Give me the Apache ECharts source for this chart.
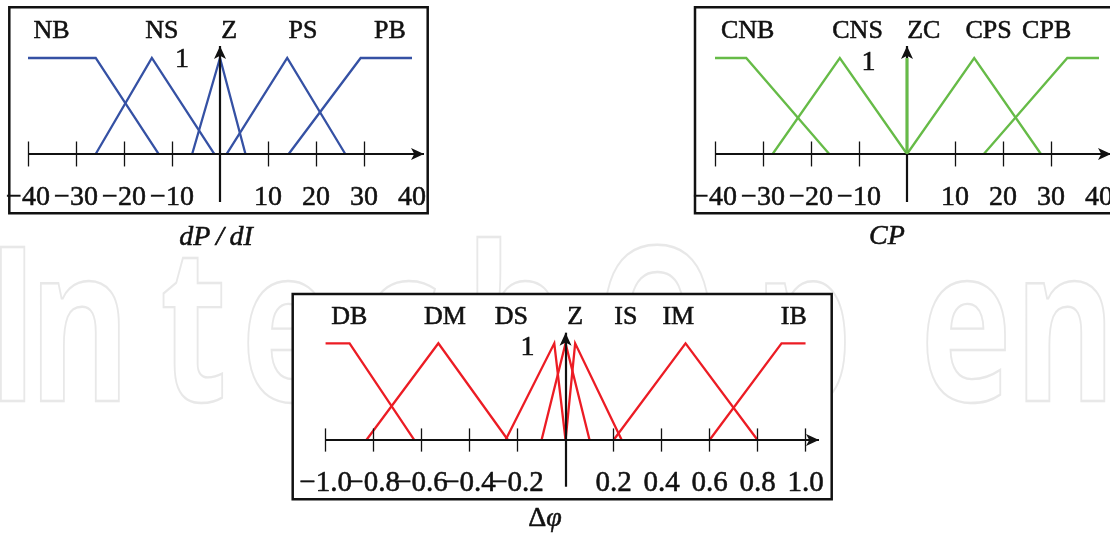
<!DOCTYPE html>
<html>
<head>
<meta charset="utf-8">
<script src="https://cdn.jsdelivr.net/npm/echarts@6/dist/echarts.min.js"></script>
<style>
  html, body { margin: 0; padding: 0; background: #fff; }
  #chart { width: 1110px; height: 535px; }
</style>
</head>
<body>
<div id="chart"></div>
<script>
// ---- Fuzzy sets of the input dP/dI: breakpoints [x, membership] ----
const dpdiNames = ['NB', 'NS', 'Z', 'PS', 'PB'];
const dpdiNB = [[-40, 1], [-25.9, 1], [-12.8, 0]];
const dpdiNS = [[-25.9, 0], [-14.2, 1], [-1.2, 0]];
const dpdiZ  = [[-5.8, 0], [0, 1], [5.3, 0]];
const dpdiPS = [[1.4, 0], [14, 1], [26.1, 0]];
const dpdiPB = [[14.3, 0], [29.3, 1], [40, 1]];
const dpdiTicks = [-40, -30, -20, -10, 10, 20, 30];
const dpdiTickLabels = [-40, -30, -20, -10, 10, 20, 30, 40];

// ---- Fuzzy sets of the input CP ----
const cpNames = ['CNB', 'CNS', 'ZC', 'CPS', 'CPB'];
const cpCNB = [[-40, 1], [-33.5, 1], [-16.2, 0]];
const cpCNS = [[-28, 0], [-14, 1], [0, 0]];
const cpZC  = [[0, 0], [0, 1]];
const cpCPS = [[0, 0], [14, 1], [27.9, 0]];
const cpCPB = [[16, 0], [33.4, 1], [40, 1]];
const cpTicks = [-40, -30, -20, -10, 10, 20, 30];
const cpTickLabels = [-40, -30, -20, -10, 10, 20, 30, 40];

// ---- Fuzzy sets of the output Δφ ----
const phiNames = ['DB', 'DM', 'DS', 'Z', 'IS', 'IM', 'IB'];
const phiDB = [[-1, 1], [-0.9, 1], [-0.63, 0]];
const phiDM = [[-0.83, 0], [-0.53, 1], [-0.24, 0]];
const phiDS = [[-0.25, 0], [-0.047, 1], [0, 0]];
const phiZ  = [[-0.1, 0], [0, 1], [0.1, 0]];
const phiIS = [[0, 0], [0.04, 1], [0.234, 0]];
const phiIM = [[0.2, 0], [0.5, 1], [0.8, 0]];
const phiIB = [[0.6, 0], [0.9, 1], [1, 1]];
const phiTicks = [-1, -0.8, -0.6, -0.4, -0.2, 0.2, 0.4, 0.6, 0.8, 1];
const phiTickLabels = [-1, -0.8, -0.6, -0.4, -0.2, 0.2, 0.4, 0.6, 0.8, 1];

const MINUS = '\u2212';
const SERIF = '"Liberation Serif", "DejaVu Serif", serif';
const INK = '#111111';
const TEXT_WEIGHT = 0.55;   // thin outline that gives the serif text a bit more body

const fmtInt = v => (v < 0 ? MINUS + Math.abs(v) : String(v));
const fmtDec = v => (v < 0 ? MINUS : '') + Math.abs(v).toFixed(1);

// Panel layout: frame in pixels, value extents, where the set names sit
const panels = [
  {
    names: dpdiNames, curves: [dpdiNB, dpdiNS, dpdiZ, dpdiPS, dpdiPB], spike: -1,
    color: '#3551a4', ticks: dpdiTicks, tickLabels: dpdiTickLabels, fmt: fmtInt,
    grid: { left: 9.3, top: 7.3, width: 418.4, height: 206 },
    xMin: -43.9, xMax: 43.27, yMin: -0.618, yMax: 1.528,
    hAxis: [-40, 42.5], vAxis: [-0.5, 1.125], tickHalf: 0.13,
    labelMargin: 44, tickFont: 28,
    nameX: [-35.1, -12.1, 1.9, 17.3, 35.4], nameY: 1.278, one: [-7.9, 0.98]
  },
  {
    names: cpNames, curves: [cpCNB, cpCNS, cpZC, cpCPS, cpCPB], spike: 2,
    color: '#66bb47', ticks: cpTicks, tickLabels: cpTickLabels, fmt: fmtInt,
    grid: { left: 695, top: 7.3, width: 418.4, height: 206 },
    xMin: -44.17, xMax: 43.0, yMin: -0.618, yMax: 1.528,
    hAxis: [-40, 42.5], vAxis: [-0.5, 1.125], tickHalf: 0.13,
    labelMargin: 44, tickFont: 28,
    nameX: [-33.2, -10.3, 3.5, 17.0, 29.1], nameY: 1.28, one: [-8.0, 0.95]
  },
  {
    names: phiNames, curves: [phiDB, phiDM, phiDS, phiZ, phiIS, phiIM, phiIB], spike: -1,
    color: '#ec1c24', ticks: phiTicks, tickLabels: phiTickLabels, fmt: fmtDec,
    grid: { left: 292.7, top: 294, width: 539, height: 205.3 },
    xMin: -1.137, xMax: 1.109, yMin: -0.613, yMax: 1.51,
    hAxis: [-1, 1.056], vAxis: [-0.483, 1.11], tickHalf: 0.12,
    labelMargin: 43.5, tickFont: 29,
    nameX: [-0.901, -0.503, -0.226, 0.04, 0.251, 0.47, 0.951], nameY: 1.275, one: [-0.159, 0.96]
  }
];

const grids = [], xAxes = [], yAxes = [], series = [];

const textLabel = (size) => ({
  show: true, position: 'inside', opacity: 1,
  fontFamily: SERIF, fontSize: size, color: INK,
  textBorderColor: INK, textBorderWidth: TEXT_WEIGHT, textShadowBlur: 0
});

panels.forEach((p, i) => {
  grids.push(Object.assign({
    show: true, backgroundColor: '#fff', borderColor: INK, borderWidth: 2.5,
    outerBoundsMode: 'none', containLabel: false
  }, p.grid));

  xAxes.push({ gridIndex: i, type: 'value', min: p.xMin, max: p.xMax, show: false });
  yAxes.push({ gridIndex: i, type: 'value', min: p.yMin, max: p.yMax, show: false });

  // membership functions
  p.curves.forEach((pts, k) => {
    series.push({
      type: 'line', name: p.names[k], xAxisIndex: i, yAxisIndex: i,
      data: pts, symbol: 'none', silent: true, clip: false,
      z: k === p.spike ? 5 : 2,
      lineStyle: { color: p.color, width: k === p.spike ? 3 : 2.3, join: 'miter' }
    });
  });

  // axes with arrow heads and crossing tick marks
  const axisStyle = { color: INK, width: 2.2, type: 'solid' };
  const tickStyle = { color: INK, width: 1.3, type: 'solid' };
  const lines = [
    [{ coord: [p.hAxis[0], 0], symbol: 'none', lineStyle: axisStyle },
     { coord: [p.hAxis[1], 0], symbol: 'arrow', symbolSize: [9, 13] }],
    [{ coord: [0, p.vAxis[0]], symbol: 'none', lineStyle: axisStyle },
     { coord: [0, p.vAxis[1]], symbol: 'arrow', symbolSize: [9, 13] }]
  ];
  p.ticks.forEach(t => {
    lines.push([
      { coord: [t, -p.tickHalf], symbol: 'none', lineStyle: tickStyle },
      { coord: [t, p.tickHalf], symbol: 'none' }
    ]);
  });
  series.push({
    type: 'line', xAxisIndex: i, yAxisIndex: i, data: [], silent: true, z: 3,
    markLine: {
      silent: true, animation: false, symbol: ['none', 'none'], precision: 6,
      label: { show: false }, emphasis: { disabled: true },
      itemStyle: { color: INK },
      lineStyle: axisStyle,
      data: lines
    }
  });

  // tick values written under the horizontal axis, labelMargin px below membership 0
  const pxPerUnit = p.grid.height / (p.yMax - p.yMin);
  const labelRow = -p.labelMargin / pxPerUnit;
  series.push({
    type: 'scatter', xAxisIndex: i, yAxisIndex: i,
    data: p.tickLabels.map(v => ({ value: [v, labelRow], label: { formatter: p.fmt(v) } })),
    symbolSize: 0, silent: true, z: 6,
    itemStyle: { color: INK, opacity: 1 },
    label: textLabel(p.tickFont)
  });

  // set names above the peaks, plus the membership grade "1"
  const labelData = p.names.map((n, k) => ({ value: [p.nameX[k], p.nameY], label: { formatter: n, fontSize: 26 } }));
  labelData.push({ value: p.one, label: { formatter: '1', fontSize: 28 } });
  series.push({
    type: 'scatter', xAxisIndex: i, yAxisIndex: i, data: labelData,
    symbolSize: 0, silent: true, z: 6,
    itemStyle: { color: INK, opacity: 1 },
    label: textLabel(26)
  });
});

// faint lettering behind the panels
const markLetters = [
  ['I', 12.5], ['n', 79.5], ['t', 193.5], ['e', 287], ['c', 400],
  ['h', 516], ['O', 657], ['p', 803], ['e', 966], ['n', 1065]
];
const graphics = markLetters.map(([ch, cx]) => ({
  type: 'text', x: cx, y: 340, z: -5, scaleX: 0.72, silent: true,
  style: {
    text: ch, font: 'bold 215px "Open Sans", "Noto Sans", sans-serif',
    fill: 'rgba(0,0,0,0)', stroke: '#e8e8e8', lineWidth: 2.4,
    textAlign: 'center', textVerticalAlign: 'middle'
  }
}));

// axis titles
const titleFont = 'italic 28px ' + SERIF;
const titleInk = { fill: INK, stroke: INK, lineWidth: TEXT_WEIGHT, textAlign: 'center', textVerticalAlign: 'middle' };
graphics.push(
  { type: 'text', x: 216, y: 238, z: 10, silent: true,
    style: Object.assign({ text: 'dP\u2009/\u2009dI', font: titleFont }, titleInk) },
  { type: 'text', x: 887, y: 237, z: 10, silent: true,
    style: Object.assign({ text: 'CP', font: titleFont }, titleInk) },
  { type: 'text', x: 545, y: 519, z: 10, silent: true,
    style: Object.assign({
      text: '{a|\u0394}{b|\u03c6}',
      rich: {
        a: { fontFamily: SERIF, fontSize: 28, fill: INK, stroke: INK, lineWidth: TEXT_WEIGHT },
        b: { fontFamily: SERIF, fontSize: 28, fontStyle: 'italic', fill: INK, stroke: INK, lineWidth: TEXT_WEIGHT }
      }
    }, titleInk) }
);

const chart = echarts.init(document.getElementById('chart'), null, { renderer: 'canvas' });
chart.setOption({
  animation: false,
  backgroundColor: '#fff',
  grid: grids,
  xAxis: xAxes,
  yAxis: yAxes,
  series: series,
  graphic: { elements: graphics }
});
</script>
</body>
</html>
